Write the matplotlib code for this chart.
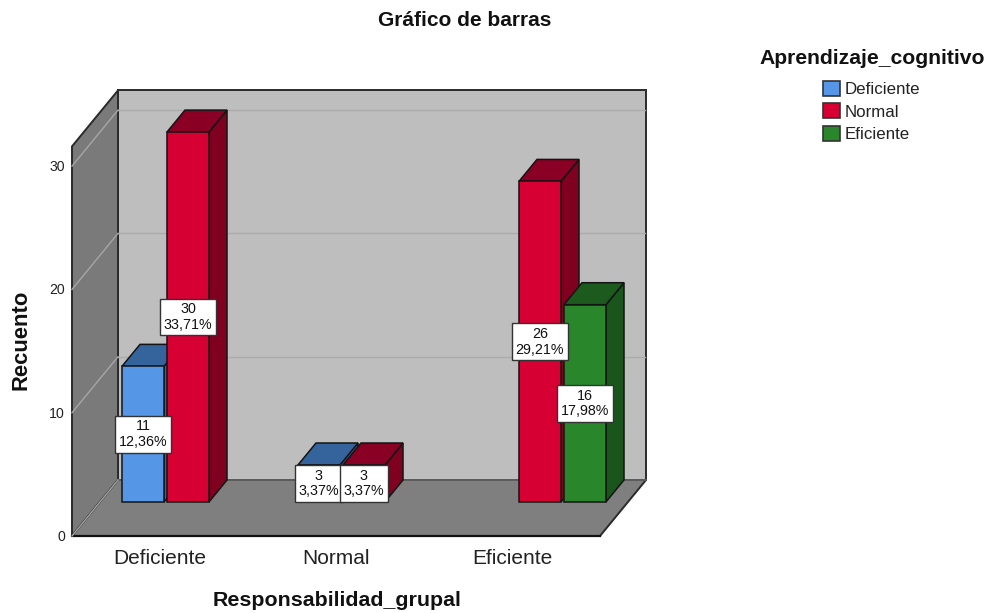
"""SPSS style 3D clustered bar chart drawn with plain polygons."""
import matplotlib
matplotlib.use("Agg")
import matplotlib.pyplot as plt
from matplotlib.patches import Patch, Polygon

plt.rcParams["font.family"] = ["Liberation Sans", "DejaVu Sans"]

categories = ["Deficiente", "Normal", "Eficiente"]
series_names = ["Deficiente", "Normal", "Eficiente"]
deficiente = [11, 3, 0]
normal = [30, 3, 26]
eficiente = [0, 0, 16]
percent_deficiente = ["12,36%", "3,37%", ""]
percent_normal = ["33,71%", "3,37%", "29,21%"]
percent_eficiente = ["", "", "17,98%"]
y_ticks = [0, 10, 20, 30]

front_colors = ["#5596E6", "#D70032", "#29862B"]
top_colors = ["#34649B", "#8A0024", "#1C5A1E"]
side_colors = ["#34649B", "#800020", "#1A561C"]
EDGE = "#141414"

W, H = 992, 613
PX_X = 176.0     # pixels per category
PX_Y = 12.33     # pixels per count
X0, Y0 = 160.0, 536.0   # pixel position of category 0, count 0

DX, DY = 46 / PX_X, 56 / PX_Y    # wall depth offset, data units
TOP = 31.6
LEFT, RIGHT = -0.5, 2.5
BAR_W = 42 / PX_X
SLOT = 45 / PX_X
BAR_NEAR = 0.607   # depth fraction of the bar front


def poly(ax, pts, fc, ec=EDGE, lw=1.1, z=1):
    ax.add_patch(Polygon(pts, closed=True, facecolor=fc, edgecolor=ec, linewidth=lw,
                         joinstyle="miter", zorder=z))


def draw_bar(ax, x0, value, j):
    x1 = x0 + BAR_W
    y0 = BAR_NEAR * DY
    y1 = y0 + value
    dx, dy = (1 - BAR_NEAR) * DX, (1 - BAR_NEAR) * DY
    poly(ax, [(x1, y0), (x1 + dx, y0 + dy), (x1 + dx, y1 + dy), (x1, y1)], side_colors[j], z=3)
    poly(ax, [(x0, y1), (x1, y1), (x1 + dx, y1 + dy), (x0 + dx, y1 + dy)], top_colors[j], z=3)
    poly(ax, [(x0, y0), (x1, y0), (x1, y1), (x0, y1)], front_colors[j], z=3)


fig = plt.figure(figsize=(W / 100, H / 100), dpi=100)
ax = fig.add_axes([0, 0, 1, 1])
ax.set_xlim(-X0 / PX_X, (W - X0) / PX_X)
ax.set_ylim(-(H - Y0) / PX_Y, Y0 / PX_Y)
ax.axis("off")

# walls and floor
poly(ax, [(LEFT + DX, DY), (RIGHT + DX, DY), (RIGHT + DX, DY + TOP), (LEFT + DX, DY + TOP)],
     "#BEBEBE", lw=1.4, ec="#2a2a2a")
poly(ax, [(LEFT, 0), (LEFT + DX, DY), (LEFT + DX, DY + TOP), (LEFT, TOP)], "#7A7A7A", lw=1.4, ec="#2a2a2a")
poly(ax, [(LEFT, 0), (RIGHT, 0), (RIGHT + DX, DY), (LEFT + DX, DY)], "#7F7F7F", lw=1.4, ec="#2a2a2a")
ax.plot([LEFT + DX, RIGHT + DX], [DY, DY], color="#666666", lw=1.2, zorder=2)
ax.plot([LEFT, RIGHT], [0, 0], color="#111111", lw=1.6, zorder=2)

for v in y_ticks:
    if v > 0:
        ax.plot([LEFT + DX, RIGHT + DX - 0.005], [DY + v, DY + v], color="#ABABAB", lw=1.0, zorder=2)
    ax.plot([LEFT, LEFT + DX], [v, DY + v], color="#A6A6A6", lw=1.0, zorder=2)
    ax.text(LEFT - 0.04, v - 0.08, str(v), ha="right", va="center", fontsize=10.2, color="#222222")

# bars, then labels on top
values = [deficiente, normal, eficiente]
percents = [percent_deficiente, percent_normal, percent_eficiente]
for i in range(len(categories)):
    for j in range(len(series_names)):
        v = values[j][i]
        if v == 0:
            continue
        left = i + BAR_NEAR * DX + (j - 1) * SLOT - BAR_W / 2
        draw_bar(ax, left, v, j)
        ax.text(left + BAR_W / 2, BAR_NEAR * DY + v / 2, f"{v}\n{percents[j][i]}",
                ha="center", va="center", fontsize=10.3, linespacing=1.15, color="#111111", zorder=5,
                bbox=dict(boxstyle="square,pad=0.25", facecolor="white", edgecolor="#333333", linewidth=1.0))

for i, name in enumerate(categories):
    ax.text(i, -1.8, name, ha="center", va="center", fontsize=15, color="#222222")

fig.text(465 / W, 1 - 20 / H, "Gráfico de barras", ha="center", va="center",
         fontsize=15, fontweight="bold", color="#111111")
fig.text(337 / W, 1 - 600 / H, "Responsabilidad_grupal", ha="center", va="center",
         fontsize=15.4, fontweight="bold", color="#111111")
fig.text(21 / W, 1 - 340 / H, "Recuento", rotation=90, ha="center", va="center",
         fontsize=15.8, fontweight="bold", color="#111111")
fig.text(872 / W, 1 - 58 / H, "Aprendizaje_cognitivo", ha="center", va="center",
         fontsize=15.2, fontweight="bold", color="#111111")

handles = [Patch(facecolor=c, edgecolor="#333333", linewidth=1.2, label=n)
           for c, n in zip(front_colors, series_names)]
leg = ax.legend(handles=handles, loc="upper left", bbox_to_anchor=(823 / W, 1 - 81 / H),
                frameon=False, fontsize=12.2, handlelength=1.0, handleheight=1.0,
                handletextpad=0.25, labelspacing=0.35, borderpad=0, borderaxespad=0)
for t in leg.get_texts():
    t.set_color("#222222")

fig.savefig("out.png", dpi=100)
plt.close(fig)
